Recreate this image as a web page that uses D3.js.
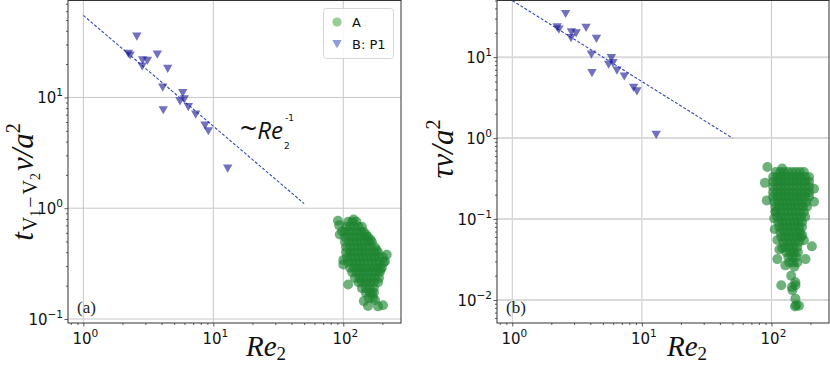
<!DOCTYPE html>
<html>
<head>
<meta charset="utf-8">
<script src="https://cdn.jsdelivr.net/npm/d3@7"></script>
<style>
body{margin:0;background:#fff;}
svg{display:block;}
</style>
</head>
<body>
<div class="chart"></div>
<script>

// B: P1 (triangles) - same Re2 in both panels
var reB   = [2.58,2.22,2.29,3.71,2.86,3.11,2.84,4.46,4.08,5.82,5.54,5.98,4.12,6.42,7.32,8.63,9.16,12.9];
var tB    = [35.6,24.9,24.0,24.4,21.7,21.5,19.1,18.2,12.3,11.0,9.26,9.66,7.69,8.22,7.03,5.60,4.97,2.29];
var tauB  = [34.3,23.4,22.0,23.1,20.4,19.8,17.3,16.9,10.8,9.8,8.1,8.5,6.4,6.85,5.8,4.19,3.80,1.10];

// fit lines  C / Re2 between Re2 = 1 and 50
var fitRe = [1, 50];
var fitLeftC = 55;
var fitRightC = 50;

// A (circles), panel (a): [Re2, t]
var clusterA_t = [
 [109,.754],[117,.754],[126,.754],
 [105,.68],[113,.68],[121,.68],[131,.68],[139,.68],
 [103,.61],[111,.61],[119,.61],[128,.61],[137,.61],[144,.61],
 [103,.55],[111,.55],[119,.55],[128,.55],[137,.55],[147,.55],[155,.55],
 [103,.495],[111,.495],[119,.495],[128,.495],[137,.495],[147,.495],[157,.495],[166,.495],
 [105,.445],[113,.445],[121,.445],[131,.445],[139,.445],[149,.445],[160,.445],[175,.445],
 [105,.40],[113,.40],[121,.40],[131,.40],[139,.40],[149,.40],[160,.40],[172,.40],[185,.40],
 [107,.36],[115,.36],[123,.36],[133,.36],[142,.36],[152,.36],[163,.36],[175,.36],[188,.36],[202,.36],
 [109,.325],[117,.325],[126,.325],[134,.325],[144,.325],[155,.325],[166,.325],[178,.325],[191,.325],[205,.325],
 [113,.29],[121,.29],[131,.29],[139,.29],[149,.29],[160,.29],[172,.29],[185,.29],[198,.29],
 [117,.265],[126,.265],[134,.265],[144,.265],[155,.265],[166,.265],[178,.265],[191,.265],
 [123,.235],[133,.235],[142,.235],[152,.235],[163,.235],[175,.235],[188,.235],
 [131,.215],[139,.215],[149,.215],[160,.215],[172,.215],[185,.215],
 [139,.19],[149,.19],[160,.19],[172,.19],
 [149,.173],[160,.173],[172,.173],
 [157,.155],[169,.155],
 [91,.77],[93,.70],[94,.58],[98,.62],[120,.79],[100,.34],[100,.31],[109,.205],
 [216,.38],[209,.33],[194,.28],[162,.52],[180,.42],[150,.576],
 [166,.17],[155,.131],[185,.13],[202,.133],[144,.145],[175,.148]
];

// A (circles), panel (b): [Re2, tau]
var clusterA_tau = [
 [108,.38],[117,.38],[125,.38],[135,.38],[145,.38],[155,.38],[166,.38],[178,.38],
 [103,.33],[111,.33],[119,.33],[127,.33],[137,.33],[147,.33],[158,.33],[169,.33],[182,.33],[195,.33],
 [103,.29],[111,.29],[119,.29],[127,.29],[137,.29],[147,.29],[158,.29],[169,.29],[182,.29],[195,.29],
 [103,.25],[111,.25],[119,.25],[127,.25],[137,.25],[147,.25],[158,.25],[169,.25],[182,.25],[195,.25],
 [103,.215],[111,.215],[119,.215],[127,.215],[137,.215],[147,.215],[158,.215],[169,.215],[182,.215],[195,.215],
 [103,.188],[111,.188],[119,.188],[127,.188],[137,.188],[147,.188],[158,.188],[169,.188],[182,.188],[195,.188],
 [105,.163],[113,.163],[121,.163],[130,.163],[140,.163],[150,.163],[160,.163],[172,.163],[185,.163],
 [107,.142],[115,.142],[123,.142],[132,.142],[142,.142],[152,.142],[163,.142],[175,.142],[188,.142],
 [108,.122],[117,.122],[125,.122],[135,.122],[145,.122],[155,.122],[166,.122],[178,.122],
 [111,.106],[119,.106],[127,.106],[137,.106],[147,.106],[158,.106],[169,.106],[182,.106],
 [113,.092],[121,.092],[130,.092],[140,.092],[150,.092],[160,.092],[172,.092],
 [115,.080],[123,.080],[132,.080],[142,.080],[152,.080],[163,.080],[172,.080],
 [117,.069],[125,.069],[135,.069],[145,.069],[155,.069],[166,.069],
 [119,.060],[127,.060],[137,.060],[147,.060],[158,.060],[169,.060],
 [123,.052],[132,.052],[142,.052],[152,.052],[163,.052],
 [127,.045],[137,.045],[147,.045],[158,.045],
 [130,.039],[140,.039],[150,.039],[160,.039],
 [135,.034],[145,.034],[155,.034],
 [137,.029],[147,.029],[158,.029],
 [93,.44],[89,.28],[92,.17],[121,.42],[213,.237],[213,.164],[205,.046],
 [107,.124],[105,.102],[106,.075],[111,.055],[121,.044],
 [115,.042],[111,.032],[128,.0268],[150,.0258],[183,.032],[178,.0546],[173,.063],
 [142,.020],[119,.0152],[153,.0166],[153,.0152],[144,.0145],[145,.0132],
 [153,.0104],[155,.0086],[163,.0085],[152,.0083]
];

var xMajor = [1, 10, 100];
var yMajorLeft = [0.1, 1, 10];
var yMajorRight = [0.01, 0.1, 1, 10];
var legendLabels = ["A", "B: P1"];

var svg = d3.select("div.chart")
            .append("svg")
            .attr("width", 830)
            .attr("height", 365);

var greenFill = "#1e8530";
var blueFill = "#1a1a96";

function minorTicks(domain){
  var out = [];
  for(var e = -4; e <= 3; e++){
    for(var k = 2; k <= 9; k++){
      var v = k * Math.pow(10, e);
      if(v > domain[0] && v < domain[1]) out.push(v);
    }
  }
  return out;
}

function powLabel(sel, v){
  var e = Math.round(Math.log10(v));
  sel.append("tspan").text("10");
  sel.append("tspan")
     .attr("dy", -7)
     .attr("font-size", 10.5)
     .text(e < 0 ? "\u2212" + (-e) : e);
}

var trianglePath = "M-4.7,-3.9L4.7,-3.9L0,4.3Z";

function panel(o){
  var g = svg.append("g");
  var x = d3.scaleLog().domain([0.762, 278]).range([o.left, o.right]);
  var y = d3.scaleLog().domain(o.yDomain).range([o.bottom, o.top]);

  var clipId = "clip" + o.name;
  svg.append("clipPath").attr("id", clipId)
     .append("rect")
     .attr("x", o.left).attr("y", o.top)
     .attr("width", o.right - o.left).attr("height", o.bottom - o.top);

  // grid
  g.selectAll(".vgrid")
    .data(xMajor)
    .enter()
    .append("line")
      .attr("x1", d => x(d)).attr("x2", d => x(d))
      .attr("y1", o.top).attr("y2", o.bottom)
      .attr("stroke", "#c8c8c8")
      .attr("stroke-width", 1);

  g.selectAll(".hgrid")
    .data(o.yMajor)
    .enter()
    .append("line")
      .attr("x1", o.left).attr("x2", o.right)
      .attr("y1", d => y(d)).attr("y2", d => y(d))
      .attr("stroke", o.hGridColor)
      .attr("stroke-width", o.hGridWidth);

  // axes (ticks only)
  var xMinorAxis = g.append("g").attr("transform", "translate(0," + o.bottom + ")")
     .call(d3.axisBottom(x).tickValues(minorTicks(x.domain())).tickSize(2).tickFormat(""));
  var xMajorAxis = g.append("g").attr("transform", "translate(0," + o.bottom + ")")
     .call(d3.axisBottom(x).tickValues(xMajor).tickSize(3.5).tickFormat(""));
  var yMinorAxis = g.append("g").attr("transform", "translate(" + o.left + ",0)")
     .call(d3.axisLeft(y).tickValues(minorTicks(y.domain())).tickSize(2).tickFormat(""));
  var yMajorAxis = g.append("g").attr("transform", "translate(" + o.left + ",0)")
     .call(d3.axisLeft(y).tickValues(o.yMajor).tickSize(3.5).tickFormat(""));
  [xMinorAxis, xMajorAxis, yMinorAxis, yMajorAxis].forEach(function(a){
    a.select(".domain").remove();
    a.selectAll("line").attr("stroke", "#333").attr("stroke-width", 0.8);
  });

  // tick labels
  g.selectAll(".xlab")
    .data(xMajor)
    .enter()
    .append("text")
      .attr("x", d => x(d) + 2)
      .attr("y", 344)
      .attr("text-anchor", "middle")
      .attr("font-family", "DejaVu Sans")
      .attr("font-size", 15)
      .attr("fill", "#111")
      .each(function(d){ powLabel(d3.select(this), d); });

  g.selectAll(".ylab")
    .data(o.yMajor)
    .enter()
    .append("text")
      .attr("x", o.left - 5)
      .attr("y", d => y(d) + 6)
      .attr("text-anchor", "end")
      .attr("font-family", "DejaVu Sans")
      .attr("font-size", 15)
      .attr("fill", "#111")
      .each(function(d){ powLabel(d3.select(this), d); });

  var marks = g.append("g").attr("clip-path", "url(#" + clipId + ")");

  // fit line
  marks.append("path")
     .datum(fitRe)
     .attr("d", d3.line().x(d => x(d)).y(d => y(o.fitC / d)))
     .attr("fill", "none")
     .attr("stroke", "#3348b8")
     .attr("stroke-width", 1.1)
     .attr("stroke-dasharray", "3,1.8");

  // A
  marks.selectAll(".ptA")
     .data(o.cluster)
     .enter()
     .append("circle")
       .attr("cx", d => x(d[0]))
       .attr("cy", d => y(d[1]))
       .attr("r", 5)
       .attr("fill", greenFill)
       .attr("fill-opacity", 0.64);

  // B
  marks.selectAll(".ptB")
     .data(reB.map((r, i) => [r, o.valsB[i]]))
     .enter()
     .append("path")
       .attr("d", trianglePath)
       .attr("transform", d => "translate(" + x(d[0]) + "," + y(d[1]) + ")")
       .attr("fill", blueFill)
       .attr("fill-opacity", 0.62);

  // frame
  g.append("rect")
     .attr("x", o.left).attr("y", o.top)
     .attr("width", o.right - o.left).attr("height", o.bottom - o.top)
     .attr("fill", "none")
     .attr("stroke", "#333")
     .attr("stroke-width", 1);

  // x label
  var xl = g.append("text")
     .attr("x", o.xLabelX)
     .attr("y", 356)
     .attr("text-anchor", "middle")
     .attr("font-family", "Liberation Serif")
     .attr("font-size", 29)
     .attr("fill", "#111");
  xl.append("tspan").attr("font-style", "italic").text("Re");
  xl.append("tspan").attr("font-size", 19).attr("dy", 4).text("2");

  // panel tag
  g.append("text")
     .attr("x", o.left + 9)
     .attr("y", 313)
     .attr("font-family", "Liberation Serif")
     .attr("font-size", 17)
     .attr("fill", "#222")
     .text(o.tag);

  return {x: x, y: y, g: g};
}

var left = panel({name: "a", left: 68, right: 401, top: 0.5, bottom: 323,
  yDomain: [0.092, 75], yMajor: yMajorLeft, cluster: clusterA_t, valsB: tB,
  fitC: fitLeftC, tag: "(a)", hGridColor: "#c8c8c8", hGridWidth: 1, xLabelX: 266});

var right = panel({name: "b", left: 497, right: 829, top: 0.5, bottom: 323,
  yDomain: [0.0052, 50.1], yMajor: yMajorRight, cluster: clusterA_tau, valsB: tauB,
  fitC: fitRightC, tag: "(b)", hGridColor: "#dadada", hGridWidth: 2, xLabelX: 687});

// y labels
var yl = svg.append("text")
   .attr("transform", "translate(33,182) rotate(-90)")
   .attr("text-anchor", "middle")
   .attr("font-family", "Liberation Serif")
   .attr("font-size", 31)
   .attr("fill", "#111");
yl.append("tspan").attr("font-style", "italic").text("t");
yl.append("tspan").attr("font-size", 20).attr("dy", 4).attr("dx", 1).text("V");
yl.append("tspan").attr("font-size", 14).attr("dy", 3).text("1");
yl.append("tspan").attr("font-size", 20).attr("dy", -3).attr("dx", 2).text("\u2212");
yl.append("tspan").attr("font-size", 20).attr("dx", 2).text("V");
yl.append("tspan").attr("font-size", 14).attr("dy", 3).text("2");
yl.append("tspan").attr("font-style", "italic").attr("dy", -7).attr("dx", 2).text("\u03bd/a");
yl.append("tspan").attr("font-size", 20).attr("dy", -13).text("2");

var yr = svg.append("text")
   .attr("transform", "translate(453,149) rotate(-90)")
   .attr("text-anchor", "middle")
   .attr("font-family", "Liberation Serif")
   .attr("font-size", 31)
   .attr("fill", "#111");
yr.append("tspan").attr("font-style", "italic").text("\u03c4\u03bd/a");
yr.append("tspan").attr("font-size", 20).attr("dy", -13).text("2");

// annotation ~Re2^-1
var ann = svg.append("text")
   .attr("x", 240)
   .attr("y", 139)
   .attr("font-family", "Open Sans")
   .attr("font-size", 24)
   .attr("fill", "#111");
ann.append("tspan").attr("font-size", 30).text("~");
ann.append("tspan").attr("font-style", "italic").text("Re");
svg.append("text").attr("x", 285).attr("y", 121)
   .attr("font-family", "DejaVu Sans").attr("font-size", 9).attr("fill", "#111").text("-1");
svg.append("text").attr("x", 284).attr("y", 149)
   .attr("font-family", "DejaVu Sans").attr("font-size", 9).attr("fill", "#111").text("2");

// legend
var lg = svg.append("g");
lg.append("rect")
  .attr("x", 323.5).attr("y", 8.5)
  .attr("width", 70).attr("height", 50)
  .attr("rx", 3)
  .attr("fill", "white")
  .attr("fill-opacity", 0.85)
  .attr("stroke", "#d6d6d6");
lg.append("circle").attr("cx", 337).attr("cy", 22).attr("r", 4.6)
  .attr("fill", "#2ca02c").attr("fill-opacity", 0.5);
lg.append("path").attr("d", trianglePath)
  .attr("transform", "translate(337,44)")
  .attr("fill", "#5468c8").attr("fill-opacity", 0.65);
lg.selectAll(".lt")
  .data(legendLabels)
  .enter()
  .append("text")
    .attr("x", 352)
    .attr("y", (d, i) => 27 + i * 22)
    .attr("font-family", "DejaVu Sans")
    .attr("font-size", 13)
    .attr("fill", "#111")
    .text(d => d);

</script>
</body>
</html>
